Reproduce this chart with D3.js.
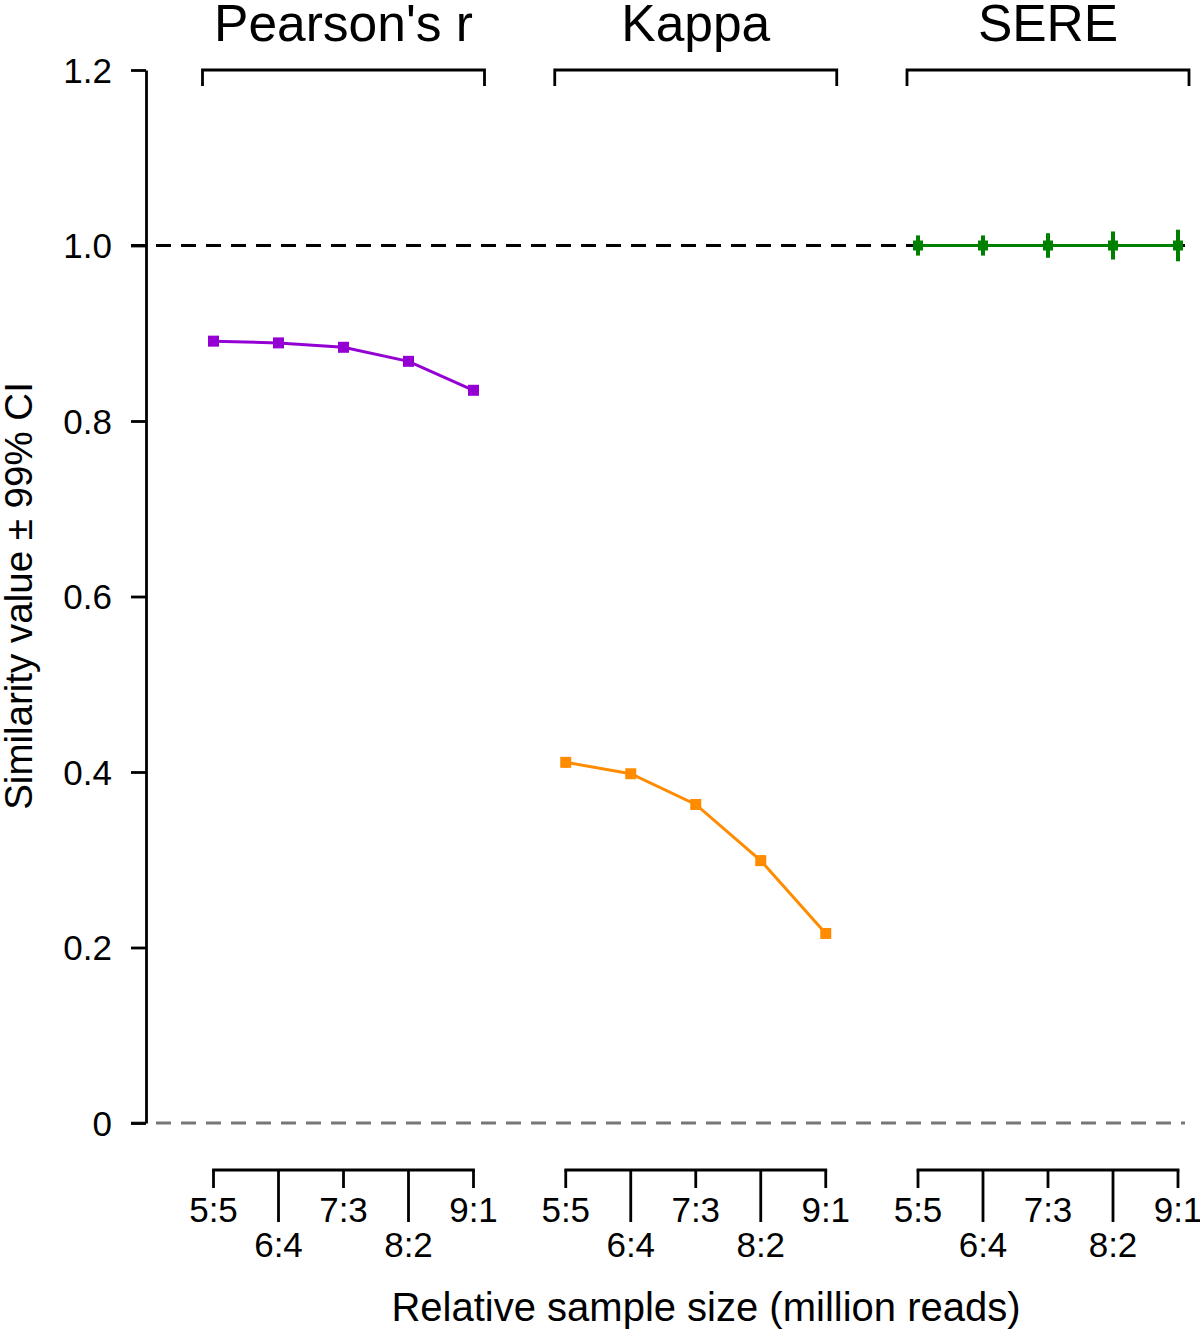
<!DOCTYPE html>
<html>
<head>
<meta charset="utf-8">
<script src="https://cdn.jsdelivr.net/npm/d3@7"></script>
<style>
  html, body { margin: 0; padding: 0; background: #fff; }
  svg text { font-family: "Liberation Sans", Arial, sans-serif; fill: #000; }
</style>
</head>
<body>
<svg id="chart" width="1200" height="1335"></svg>
<script>
// ---- Data ----
const groups = ["Pearson's r", "Kappa", "SERE"];
const ratios = ["5:5", "6:4", "7:3", "8:2", "9:1"];
const pearsonValues = [0.891, 0.889, 0.884, 0.868, 0.835];
const pearsonCI     = [0.002, 0.002, 0.002, 0.002, 0.002];
const kappaValues   = [0.411, 0.398, 0.363, 0.299, 0.216];
const kappaCI       = [0.006, 0.005, 0.005, 0.006, 0.005];
const sereValues    = [1.000, 1.000, 1.000, 1.000, 1.000];
const sereCI        = [0.0115, 0.0115, 0.014, 0.016, 0.018];
const yTicks = [0, 0.2, 0.4, 0.6, 0.8, 1.0, 1.2];

const seriesColors = ["#9400D3", "#FF8C00", "#008000"];
const seriesValues = [pearsonValues, kappaValues, sereValues];
const seriesCI = [pearsonCI, kappaCI, sereCI];

// ---- Scales ----
const svg = d3.select("#chart");
const y = d3.scaleLinear().domain([0, 1.2]).range([1123, 70]);
const gx = d3.scalePoint().domain(groups).range([343.5, 1048]);
const ix = d3.scalePoint().domain(ratios).range([-130, 130]);
const xPos = (g, r) => gx(g) + ix(r);

// ---- Reference dashed lines ----
svg.append("line")
  .attr("x1", 131).attr("x2", 1185)
  .attr("y1", y(0)).attr("y2", y(0))
  .attr("stroke", "#777").attr("stroke-width", 2.8)
  .attr("stroke-dasharray", "15,10");
svg.append("line")
  .attr("x1", 131).attr("x2", 1185)
  .attr("y1", y(1)).attr("y2", y(1))
  .attr("stroke", "#000").attr("stroke-width", 2.8)
  .attr("stroke-dasharray", "15,10");

// ---- Y axis ----
const yAxis = d3.axisLeft(y)
  .tickValues(yTicks)
  .tickSize(15)
  .tickSizeOuter(0)
  .tickPadding(19)
  .tickFormat(d => d === 0 ? "0" : d3.format(".1f")(d));
const yg = svg.append("g").attr("transform", "translate(146,0)").call(yAxis);
yg.select(".domain").attr("stroke", "#000").attr("stroke-width", 2.8);
yg.selectAll(".tick line").attr("stroke", "#000").attr("stroke-width", 2.8);
yg.selectAll(".tick text")
  .style("font-family", "'Liberation Sans', Arial, sans-serif")
  .style("font-size", "35px").attr("fill", "#000").attr("dy", "0.35em");

svg.append("text")
  .attr("transform", "translate(32,596) rotate(-90)")
  .attr("text-anchor", "middle")
  .style("font-size", "38.5px")
  .text("Similarity value \u00B1 99% CI");

// ---- Top brackets & titles ----
groups.forEach(g => {
  const x0 = xPos(g, ratios[0]) - 11, x1 = xPos(g, ratios[ratios.length - 1]) + 11;
  svg.append("path")
    .attr("d", `M${x0},${y(1.2) + 16} V${y(1.2)} H${x1} V${y(1.2) + 16}`)
    .attr("fill", "none").attr("stroke", "#000").attr("stroke-width", 2.8);
  svg.append("text")
    .attr("x", gx(g)).attr("y", 41)
    .attr("text-anchor", "middle")
    .style("font-size", "51.5px")
    .text(g);
});

// ---- Bottom x axes (brackets) ----
const xBaseY = 1170;
groups.forEach(g => {
  const x0 = xPos(g, ratios[0]), x1 = xPos(g, ratios[ratios.length - 1]);
  const ag = svg.append("g");
  ag.append("line").attr("x1", x0).attr("x2", x1)
    .attr("y1", xBaseY).attr("y2", xBaseY)
    .attr("stroke", "#000").attr("stroke-width", 2.8).attr("stroke-linecap", "square");
  ratios.forEach((r, i) => {
    const xx = xPos(g, r);
    const long = i % 2 === 1;
    ag.append("line").attr("x1", xx).attr("x2", xx)
      .attr("y1", xBaseY).attr("y2", long ? 1222 : 1188)
      .attr("stroke", "#000").attr("stroke-width", 2.8);
    ag.append("text")
      .attr("x", xx).attr("y", long ? 1257 : 1222)
      .attr("text-anchor", "middle")
      .style("font-size", "35px")
      .text(r);
  });
});

svg.append("text")
  .attr("x", 706).attr("y", 1321)
  .attr("text-anchor", "middle")
  .style("font-size", "40px")
  .text("Relative sample size (million reads)");

// ---- Series ----
groups.forEach((g, gi) => {
  const color = seriesColors[gi];
  const data = ratios.map((r, i) => ({ r, v: seriesValues[gi][i], ci: seriesCI[gi][i] }));
  const line = d3.line().x(d => xPos(g, d.r)).y(d => y(d.v));
  const sg = svg.append("g");
  sg.append("path").datum(data).attr("d", line)
    .attr("fill", "none").attr("stroke", color).attr("stroke-width", 3);
  sg.selectAll("line.err").data(data).join("line")
    .attr("class", "err")
    .attr("x1", d => xPos(g, d.r)).attr("x2", d => xPos(g, d.r))
    .attr("y1", d => y(d.v + d.ci)).attr("y2", d => y(d.v - d.ci))
    .attr("stroke", color).attr("stroke-width", 4);
  const s = gi === 2 ? 10 : 11;
  sg.selectAll("rect").data(data).join("rect")
    .attr("x", d => xPos(g, d.r) - s / 2).attr("y", d => y(d.v) - s / 2)
    .attr("width", s).attr("height", s)
    .attr("fill", color);
});
</script>
</body>
</html>
